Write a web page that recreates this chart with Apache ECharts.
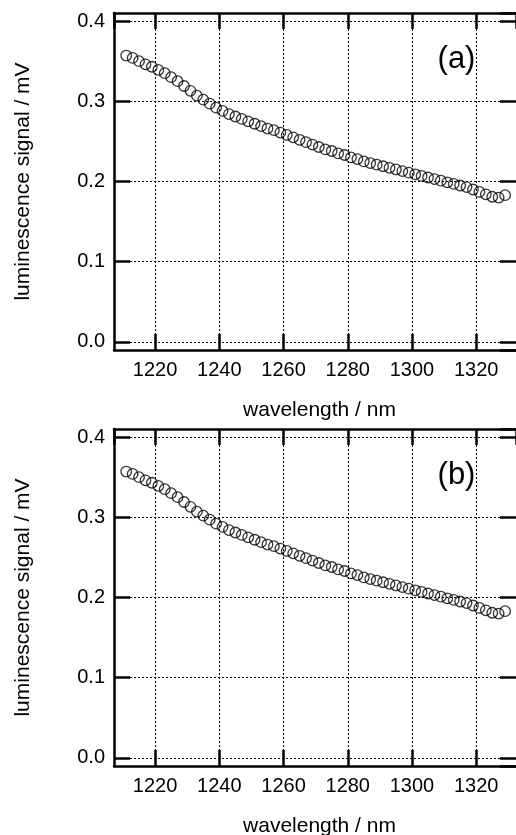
<!DOCTYPE html>
<html><head><meta charset="utf-8">
<script src="https://cdn.jsdelivr.net/npm/echarts@6/dist/echarts.min.js"></script>
<style>html,body{margin:0;padding:0;background:#fff}#c{width:516px;height:835px}</style>
</head><body><div id="c"></div>
<script>
// ---- data ----
const wavelengths = [1211,1213,1215,1217,1219,1221,1223,1225,1227,1229,1231,1233,1235,1237,1239,
  1241,1243,1245,1247,1249,1251,1253,1255,1257,1259,1261,1263,1265,1267,1269,1271,1273,1275,1277,1279,
  1281,1283,1285,1287,1289,1291,1293,1295,1297,1299,1301,1303,1305,1307,1309,1311,1313,1315,1317,1319,
  1321,1323,1325,1327,1329];
const signalA = [0.357,0.354,0.350,0.346,0.343,0.339,0.335,0.330,0.325,0.319,0.313,0.307,0.302,0.297,0.292,
  0.288,0.284,0.281,0.278,0.275,0.272,0.269,0.266,0.264,0.261,0.258,0.255,0.252,0.249,0.246,0.243,0.240,0.238,0.235,0.233,
  0.230,0.228,0.225,0.223,0.221,0.219,0.217,0.215,0.213,0.211,0.209,0.207,0.205,0.203,0.201,0.199,0.197,0.195,0.193,0.190,
  0.187,0.184,0.181,0.180,0.183];
const signalB = [0.357,0.354,0.350,0.346,0.343,0.339,0.335,0.330,0.325,0.319,0.313,0.307,0.302,0.297,0.292,
  0.288,0.284,0.281,0.278,0.275,0.272,0.269,0.266,0.264,0.261,0.258,0.255,0.252,0.249,0.246,0.243,0.240,0.238,0.235,0.233,
  0.230,0.228,0.225,0.223,0.221,0.219,0.217,0.215,0.213,0.211,0.209,0.207,0.205,0.203,0.201,0.199,0.197,0.195,0.193,0.190,
  0.187,0.184,0.181,0.180,0.183];
const xRange = [1207.2, 1332.4];
const yRange = [-0.01, 0.41];
const xStep = 20;
const yStep = 0.1;
const xTitle = 'wavelength / nm';
const yTitle = 'luminescence signal / mV';
const panelLabels = ['(a)', '(b)'];

// ---- chart ----
const FONT = '"Liberation Sans", Arial, Helvetica, sans-serif';
const chart = echarts.init(document.getElementById('c'), null, {renderer: 'canvas'});
const gridLine = {show: true, lineStyle: {color: '#000', width: 1, type: [2, 2]}};
const thick = {show: true, onZero: false, lineStyle: {color: '#000', width: 2.5}};
const tick = {show: true, inside: true, length: 16, lineStyle: {color: '#000', width: 2.5}};

function xAxes(gi) {
  return [{
    type: 'value', gridIndex: gi, position: 'bottom', min: xRange[0], max: xRange[1],
    minInterval: xStep, maxInterval: xStep,
    axisLine: thick, axisTick: tick,
    axisLabel: {show: true, margin: 10, color: '#000', fontSize: 20, fontFamily: FONT,
      showMinLabel: false, showMaxLabel: false, formatter: v => String(v)},
    splitLine: gridLine
  }, {
    type: 'value', gridIndex: gi, position: 'top', min: xRange[0], max: xRange[1],
    minInterval: xStep, maxInterval: xStep,
    axisLine: thick, axisTick: tick,
    axisLabel: {show: false}, splitLine: {show: false}
  }];
}
function yAxes(gi) {
  return [{
    type: 'value', gridIndex: gi, position: 'left', min: yRange[0], max: yRange[1],
    minInterval: yStep, maxInterval: yStep,
    axisLine: thick, axisTick: tick,
    axisLabel: {show: true, margin: 9, color: '#000', fontSize: 20, fontFamily: FONT,
      showMinLabel: false, showMaxLabel: false, formatter: v => v.toFixed(1)},
    splitLine: gridLine
  }, {
    type: 'value', gridIndex: gi, position: 'right', min: yRange[0], max: yRange[1],
    minInterval: yStep, maxInterval: yStep,
    axisLine: {show: false, onZero: false}, axisTick: tick,
    axisLabel: {show: false}, splitLine: {show: false}
  }];
}
function series(data, gi) {
  return {
    type: 'scatter', xAxisIndex: gi * 2, yAxisIndex: gi * 2,
    data: wavelengths.map((w, i) => [w, data[i]]),
    symbol: 'circle', symbolSize: 10.5,
    itemStyle: {color: 'rgba(255,255,255,0)', borderColor: '#000', borderWidth: 1.3},
    silent: true, animation: false, z: 5
  };
}
const panelTops = [13, 429];
const panelBottoms = [835 - 350, 835 - 766];
const graphics = [];
panelTops.forEach((t, i) => {
  graphics.push({type: 'text', x: 319.5, y: t + 397, z: 10,
    style: {text: xTitle, font: '21px ' + FONT, fill: '#000', align: 'center', verticalAlign: 'middle',
      textAlign: 'center', textVerticalAlign: 'middle'}});
  graphics.push({type: 'text', x: 23, y: t + 168.5, rotation: Math.PI / 2, z: 10,
    style: {text: yTitle, font: '21px ' + FONT, fill: '#000', align: 'center', verticalAlign: 'middle',
      textAlign: 'center', textVerticalAlign: 'middle'}});
  graphics.push({type: 'text', x: 456.5, y: t + 46.5, z: 10,
    style: {text: panelLabels[i], font: '31px ' + FONT, fill: '#000', align: 'center', verticalAlign: 'middle',
      textAlign: 'center', textVerticalAlign: 'middle'}});
});

chart.setOption({
  animation: false,
  backgroundColor: '#fff',
  grid: [
    {left: 114, right: -9, top: panelTops[0], bottom: panelBottoms[0], containLabel: false},
    {left: 114, right: -9, top: panelTops[1], bottom: panelBottoms[1], containLabel: false}
  ],
  xAxis: [...xAxes(0), ...xAxes(1)],
  yAxis: [...yAxes(0), ...yAxes(1)],
  series: [series(signalA, 0), series(signalB, 1)],
  graphic: graphics
});
</script></body></html>
